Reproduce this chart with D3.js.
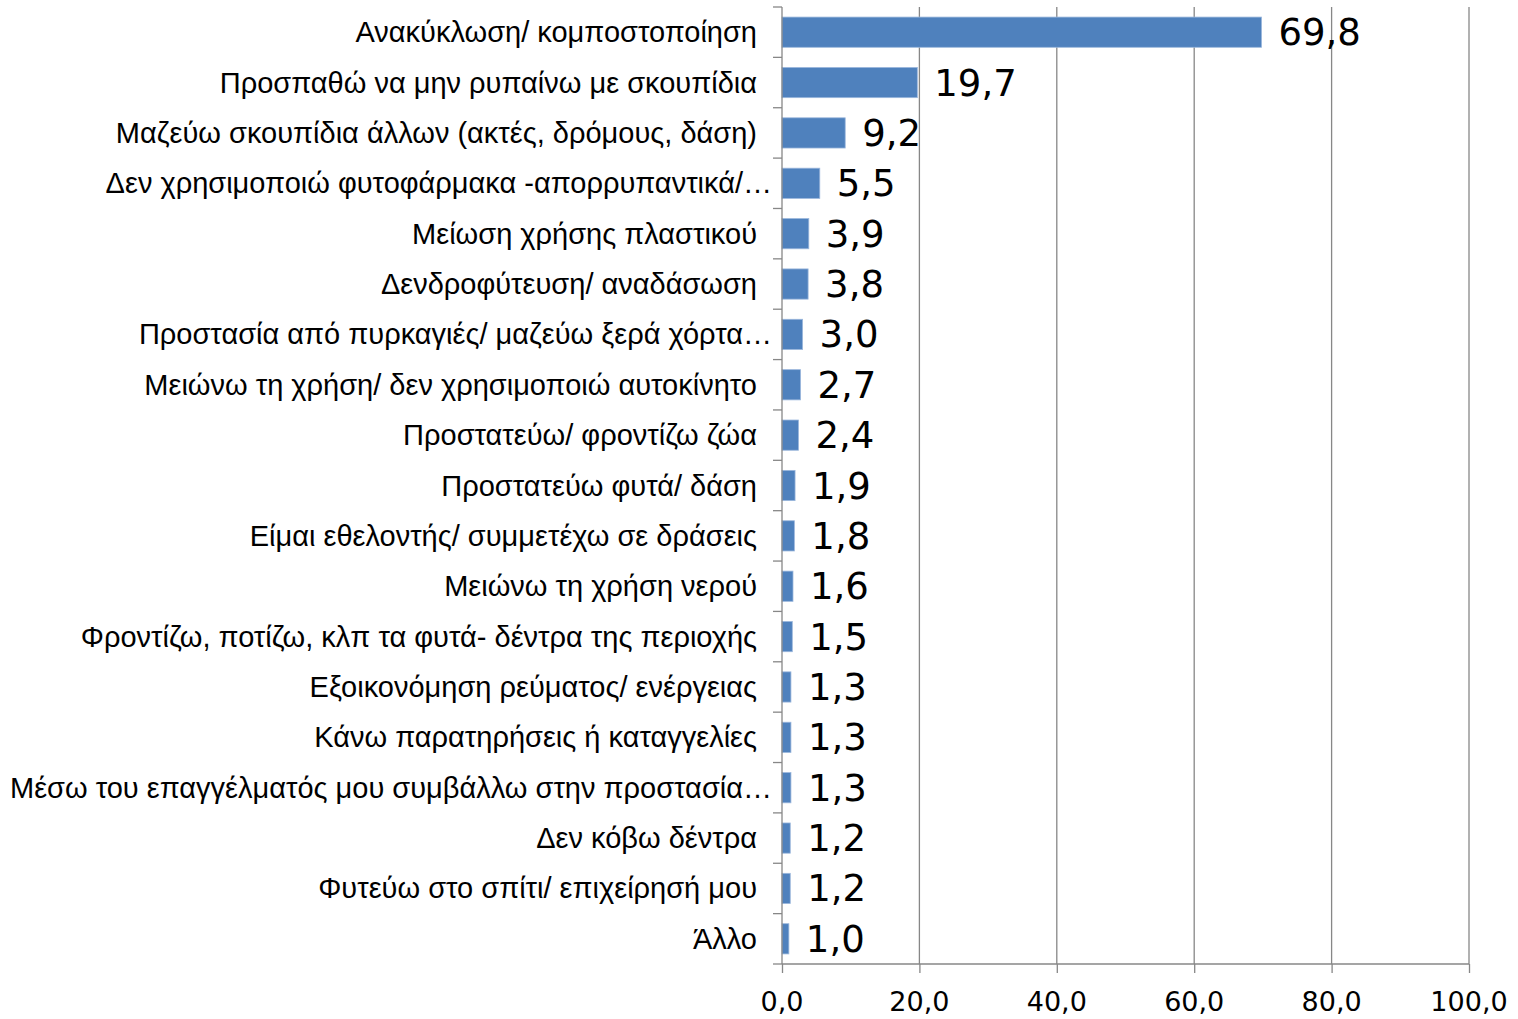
<!DOCTYPE html>
<html>
<head>
<meta charset="utf-8">
<script src="https://cdn.jsdelivr.net/npm/d3@7"></script>
<style>
  body { margin: 0; background: #fff; }
  .cat { font-family: "Liberation Sans", Arial, sans-serif; font-size: 29px; fill: #000; }
  .val { font-family: "DejaVu Sans", sans-serif; font-size: 37px; fill: #000; }
  .tick-x { font-family: "DejaVu Sans", sans-serif; font-size: 27px; fill: #000; }
</style>
</head>
<body>
<script>
var categories = [
  "Ανακύκλωση/ κομποστοποίηση",
  "Προσπαθώ να μην ρυπαίνω με σκουπίδια",
  "Μαζεύω σκουπίδια άλλων (ακτές, δρόμους, δάση)",
  "Δεν χρησιμοποιώ φυτοφάρμακα -απορρυπαντικά/…",
  "Μείωση χρήσης πλαστικού",
  "Δενδροφύτευση/ αναδάσωση",
  "Προστασία από πυρκαγιές/ μαζεύω ξερά χόρτα…",
  "Μειώνω τη χρήση/ δεν χρησιμοποιώ αυτοκίνητο",
  "Προστατεύω/ φροντίζω ζώα",
  "Προστατεύω φυτά/ δάση",
  "Είμαι εθελοντής/ συμμετέχω σε δράσεις",
  "Μειώνω τη χρήση νερού",
  "Φροντίζω, ποτίζω, κλπ τα φυτά- δέντρα της περιοχής",
  "Εξοικονόμηση ρεύματος/ ενέργειας",
  "Κάνω παρατηρήσεις ή καταγγελίες",
  "Μέσω του επαγγέλματός μου συμβάλλω στην προστασία…",
  "Δεν κόβω δέντρα",
  "Φυτεύω στο σπίτι/ επιχείρησή μου",
  "Άλλο"
];
var values = [69.8, 19.7, 9.2, 5.5, 3.9, 3.8, 3.0, 2.7, 2.4, 1.9, 1.8, 1.6, 1.5, 1.3, 1.3, 1.3, 1.2, 1.2, 1.0];
var xTicks = [0, 20, 40, 60, 80, 100];

var w = 1518,
    h = 1019;
var plotLeft = 782, plotRight = 1469, plotTop = 7, plotBottom = 964;
var gridColor = "#878787";

var fmt = function(v) { return v.toFixed(1).replace(".", ","); };

var x = d3.scaleLinear().domain([0, 100]).range([plotLeft, plotRight]);
var y = d3.scaleBand().domain(categories).range([plotTop, plotBottom])
          .paddingInner(0.4).paddingOuter(0.2);

var svg = d3.select("body")
          .append("svg")
          .attr("width", w)
          .attr("height", h);

// vertical gridlines
svg.append("g")
  .selectAll("line")
  .data(xTicks.slice(1))
  .enter().append("line")
  .attr("x1", function(d) { return x(d); })
  .attr("x2", function(d) { return x(d); })
  .attr("y1", plotTop)
  .attr("y2", plotBottom)
  .attr("stroke", gridColor)
  .attr("stroke-width", 1.3);

// bars
svg.append("g")
  .selectAll("rect")
  .data(values)
  .enter().append("rect")
  .attr("x", x(0))
  .attr("y", function(d, i) { return y(categories[i]); })
  .attr("width", function(d) { return x(d) - x(0); })
  .attr("height", y.bandwidth())
  .attr("fill", "#4f81bd")
  .attr("stroke", "#9bb7dc")
  .attr("stroke-width", 0.8);

// value labels
svg.append("g")
  .selectAll("text")
  .data(values)
  .enter().append("text")
  .attr("class", "val")
  .attr("x", function(d) { return x(d) + 17; })
  .attr("y", function(d, i) { return y(categories[i]) + y.bandwidth() / 2 + 13; })
  .text(fmt);

// bottom axis
var xAxis = d3.axisBottom(x).tickValues(xTicks).tickSize(9).tickFormat("");
var gx = svg.append("g").attr("transform", "translate(0," + plotBottom + ")").call(xAxis);
gx.selectAll("line, path").attr("stroke", gridColor).attr("stroke-width", 1.3);
gx.select(".domain").attr("d", "M" + plotLeft + ",0H" + plotRight);

svg.append("g")
  .selectAll("text")
  .data(xTicks)
  .enter().append("text")
  .attr("class", "tick-x")
  .attr("x", function(d) { return x(d); })
  .attr("y", 1011)
  .attr("text-anchor", "middle")
  .text(fmt);

// left axis line and ticks at band boundaries
var step = y.step();
var bounds = d3.range(categories.length + 1).map(function(i) {
  return i === categories.length ? plotBottom : y(categories[i]) - step * y.paddingInner() / 2;
});
bounds[0] = plotTop;
var gy = svg.append("g");
gy.append("line")
  .attr("x1", plotLeft).attr("x2", plotLeft)
  .attr("y1", plotTop).attr("y2", plotBottom)
  .attr("stroke", gridColor).attr("stroke-width", 1.3);
gy.selectAll("line.t")
  .data(bounds)
  .enter().append("line")
  .attr("class", "t")
  .attr("x1", plotLeft - 9).attr("x2", plotLeft)
  .attr("y1", function(d) { return d; })
  .attr("y2", function(d) { return d; })
  .attr("stroke", gridColor).attr("stroke-width", 1.3);

// category labels
svg.append("g")
  .selectAll("text")
  .data(categories)
  .enter().append("text")
  .attr("class", "cat")
  .attr("x", function(d) { return d.slice(-1) === "…" ? plotLeft - 10 : plotLeft - 25; })
  .attr("y", function(d) { return y(d) + y.bandwidth() / 2 + 10; })
  .attr("text-anchor", "end")
  .text(function(d) { return d; });
</script>
</body>
</html>
